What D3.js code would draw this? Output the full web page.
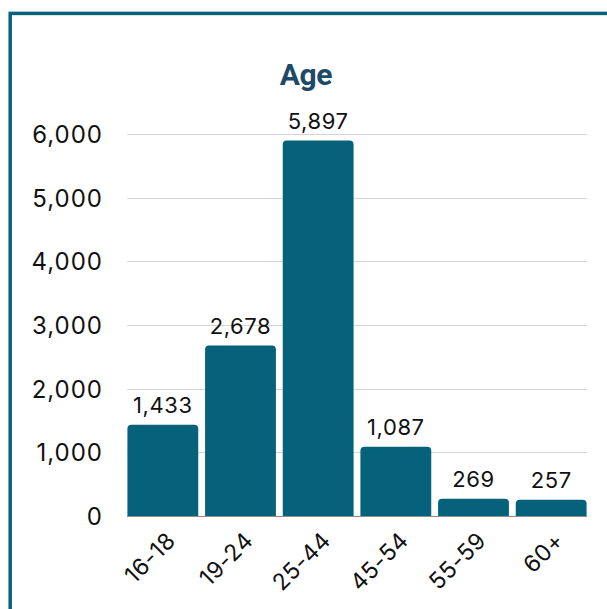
<!DOCTYPE html>
<html>
<head>
<meta charset="utf-8">
<script src="https://cdn.jsdelivr.net/npm/d3@7"></script>
<style>
  html, body { margin: 0; padding: 0; background: #fff; }
  svg { display: block; }
</style>
</head>
<body>
<svg id="chart" width="607" height="609"></svg>
<script>
// Age distribution
const categories = ["16-18", "19-24", "25-44", "45-54", "55-59", "60+"];
const values = [1433, 2678, 5897, 1087, 269, 257];
const yTicks = [0, 1000, 2000, 3000, 4000, 5000, 6000];

const svg = d3.select("#chart");
const barColor = "#05627a";
const font = "Inter, 'Noto Sans', sans-serif";

// card frame (runs off the right and bottom edges)
svg.append("rect")
  .attr("x", 10.2).attr("y", 13.4)
  .attr("width", 700).attr("height", 700)
  .attr("fill", "none")
  .attr("stroke", barColor)
  .attr("stroke-width", 3.5);

const plot = { left: 124, right: 590, top: 134, bottom: 516 };

const x = d3.scaleBand()
  .domain(categories)
  .range([plot.left, plot.right])
  .paddingInner(0.088)
  .paddingOuter(0.044);

const y = d3.scaleLinear()
  .domain([0, 6000])
  .range([plot.bottom, plot.top]);

// title
svg.append("text")
  .attr("x", 306).attr("y", 85)
  .attr("text-anchor", "middle")
  .attr("font-family", "Roboto, sans-serif")
  .attr("font-weight", 700)
  .attr("font-size", 30)
  .attr("letter-spacing", -0.4)
  .attr("fill", "#1d4a67")
  .text("Age");

// gridlines
svg.append("g")
  .selectAll("line")
  .data(yTicks.filter(d => d > 0))
  .join("line")
  .attr("x1", 127).attr("x2", 587)
  .attr("y1", d => Math.round(y(d)) + 0.5)
  .attr("y2", d => Math.round(y(d)) + 0.5)
  .attr("stroke", "#d4d4d4")
  .attr("stroke-width", 1);

// y axis labels
const yAxis = d3.axisLeft(y)
  .tickValues(yTicks)
  .tickFormat(d3.format(","))
  .tickSize(0)
  .tickPadding(0);

const yg = svg.append("g")
  .attr("transform", "translate(103,0)")
  .call(yAxis);
yg.select(".domain").remove();
yg.selectAll("text")
  .attr("font-family", font)
  .attr("font-size", 24)
  .attr("letter-spacing", 1)
  .attr("fill", "#111")
  .attr("dy", "0.36em");

// bars with rounded tops
function barPath(d, i) {
  const x0 = x(categories[i]), w = x.bandwidth();
  const y0 = y(d), yb = y(0), r = Math.min(4, (yb - y0) / 2);
  return `M${x0},${yb} V${y0 + r} Q${x0},${y0} ${x0 + r},${y0} H${x0 + w - r} Q${x0 + w},${y0} ${x0 + w},${y0 + r} V${yb} Z`;
}
svg.append("g")
  .selectAll("path")
  .data(values)
  .join("path")
  .attr("d", barPath)
  .attr("fill", barColor);

// baseline
svg.append("line")
  .attr("x1", 127).attr("x2", 587)
  .attr("y1", y(0) + 0.5).attr("y2", y(0) + 0.5)
  .attr("stroke", "#8c8c8c")
  .attr("stroke-width", 1);

// value labels
svg.append("g")
  .selectAll("text")
  .data(values)
  .join("text")
  .attr("x", (d, i) => x(categories[i]) + x.bandwidth() / 2)
  .attr("y", d => y(d) - 12)
  .attr("text-anchor", "middle")
  .attr("font-family", font)
  .attr("font-size", 22)
  .attr("letter-spacing", 0.6)
  .attr("fill", "#111")
  .text(d => d3.format(",")(d));

// x axis labels, rotated
const xAxis = d3.axisBottom(x).tickSize(0).tickPadding(0);
const xg = svg.append("g")
  .attr("transform", `translate(0,${plot.bottom})`)
  .call(xAxis);
xg.select(".domain").remove();
xg.selectAll("text")
  .attr("font-family", font)
  .attr("font-size", 23)
  .attr("letter-spacing", 0.5)
  .attr("fill", "#111")
  .attr("text-anchor", "end")
  .attr("dy", 0)
  .attr("y", 0)
  .attr("transform", "translate(14,26) rotate(-45)");
</script>
</body>
</html>
